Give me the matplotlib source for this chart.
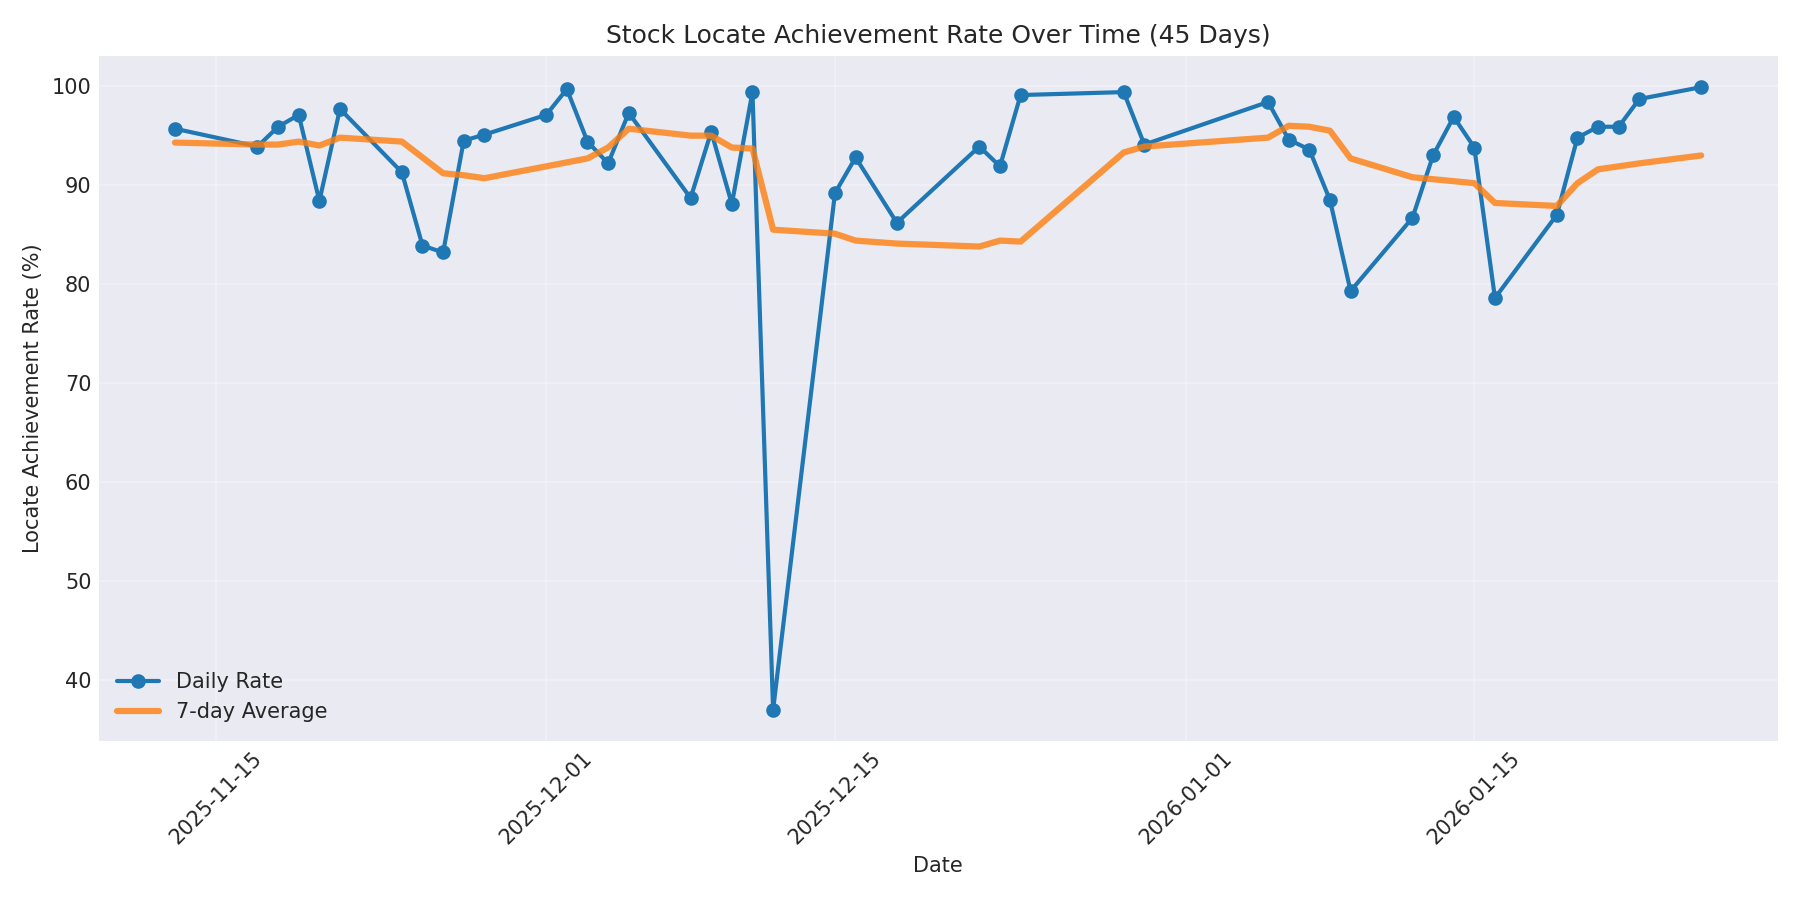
import numpy as np
import pandas as pd
import matplotlib
matplotlib.use("Agg")
import matplotlib.pyplot as plt

plt.style.use('seaborn-v0_8-darkgrid')
plt.rcParams['font.family'] = ['DejaVu Sans']

# dates with data (45 trading days)
dates = [
    '2025-11-13', '2025-11-17', '2025-11-18', '2025-11-19', '2025-11-20',
    '2025-11-21', '2025-11-24', '2025-11-25', '2025-11-26', '2025-11-27',
    '2025-11-28', '2025-12-01', '2025-12-02', '2025-12-03', '2025-12-04',
    '2025-12-05', '2025-12-08', '2025-12-09', '2025-12-10', '2025-12-11',
    '2025-12-12', '2025-12-15', '2025-12-16', '2025-12-18', '2025-12-22',
    '2025-12-23', '2025-12-24', '2025-12-29', '2025-12-30', '2026-01-05',
    '2026-01-06', '2026-01-07', '2026-01-08', '2026-01-09', '2026-01-12',
    '2026-01-13', '2026-01-14', '2026-01-15', '2026-01-16', '2026-01-19',
    '2026-01-20', '2026-01-21', '2026-01-22', '2026-01-23', '2026-01-26',
]

daily_rate = [
    95.7, 93.9, 95.9, 97.1, 88.4,
    97.7, 91.3, 83.9, 83.2, 94.5,
    95.1, 97.1, 99.7, 94.4, 92.2,
    97.3, 88.7, 95.4, 88.1, 99.4,
    37.0, 89.2, 92.8, 86.2, 93.9,
    91.9, 99.1, 99.4, 94.1, 98.4,
    94.6, 93.6, 88.5, 79.3, 86.7,
    93.0, 96.9, 93.8, 78.6, 87.0,
    94.8, 95.9, 95.9, 98.7, 99.9,
]

avg_7day = [
    94.3, 94.1, 94.1, 94.4, 94.0,
    94.8, 94.4, 92.8, 91.2, 91.0,
    90.7, 91.9, 92.3, 92.7, 93.8,
    95.7, 95.0, 95.0, 93.8, 93.7,
    85.5, 85.1, 84.4, 84.1, 83.8,
    84.4, 84.3, 93.3, 93.9, 94.8,
    96.0, 95.9, 95.5, 92.7, 90.8,
    90.6, 90.4, 90.2, 88.2, 87.9,
    90.2, 91.6, 91.9, 92.2, 93.0,
]

df = pd.DataFrame({
    'date': pd.to_datetime(dates),
    'rate': daily_rate,
    'avg': avg_7day,
})

fig, ax = plt.subplots(figsize=(12, 6))

ax.plot(df['date'], df['rate'], marker='o', linewidth=2, markersize=6,
        label='Daily Rate')
ax.plot(df['date'], df['avg'], linewidth=3, alpha=0.8,
        label='7-day Average')

ax.set_title('Stock Locate Achievement Rate Over Time (45 Days)')
ax.set_xlabel('Date')
ax.set_ylabel('Locate Achievement Rate (%)')
ax.legend()
ax.grid(True, alpha=0.3)
plt.xticks(rotation=45)

plt.tight_layout()
plt.savefig('out.png', dpi=150)
